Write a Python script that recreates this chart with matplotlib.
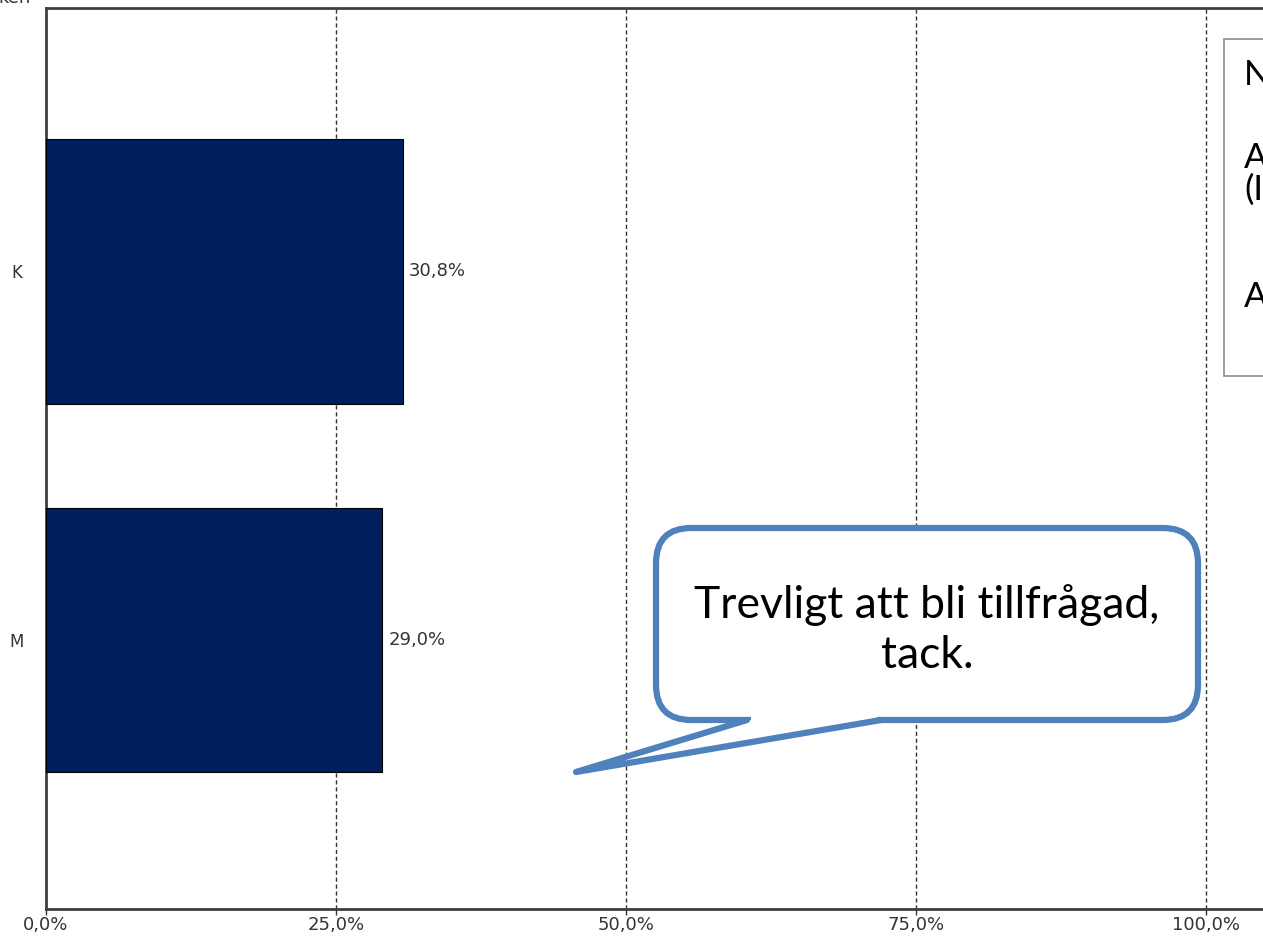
import matplotlib
matplotlib.use("Agg")
import matplotlib.pyplot as plt
from matplotlib.patches import FancyBboxPatch, Polygon, Rectangle
from matplotlib.ticker import FuncFormatter

# data
categories = ["K", "M"]
values = [30.8, 29.0]
xticks = [0, 25, 50, 75, 100]

W, H = 1263, 936
fig = plt.figure(figsize=(W / 100, H / 100), dpi=100)

# axes placed in pixels: 0% at x=46, 25% every 290 px, plot spans y 8..909
x0, ytop, ybot = 46, 8, 909
px_per_pct = 290 / 25
xmax = 110
ax = fig.add_axes([x0 / W, (H - ybot) / H, xmax * px_per_pct / W, (ybot - ytop) / H])

pos = list(range(len(categories)))
ax.barh(pos, values, height=0.718, color="#001f5f", edgecolor="#000000", linewidth=0.8, zorder=3)
for p, v in zip(pos, values):
    ax.text(v + 0.5, p, ("%.1f%%" % v).replace(".", ","), va="center", ha="left",
            fontsize=13, color="#333333", zorder=4)

ax.set_xlim(0, xmax)
ax.set_ylim(1.729, -0.713)
ax.set_yticks(pos)
ax.set_yticklabels(categories)
ax.set_xticks(xticks)
ax.xaxis.set_major_formatter(FuncFormatter(lambda v, _: ("%.1f%%" % v).replace(".", ",")))
ax.tick_params(axis="x", length=4, width=1, color="#333333", labelsize=13, labelcolor="#333333", pad=1)
ax.tick_params(axis="y", length=0, labelsize=12, labelcolor="#333333", pad=21)
for t in ax.get_yticklabels():
    t.set_horizontalalignment("center")

for g in xticks[1:]:
    ax.axvline(g, color="#333333", linestyle=(0, (3, 2)), linewidth=1.0, zorder=1)

for s in ["left", "bottom", "top"]:
    ax.spines[s].set_color("#404040")
    ax.spines[s].set_linewidth(2)
ax.spines["right"].set_visible(False)

# cut-off axis title at the top left
fig.text(-2 / W, (H - 3) / H, "ken", fontsize=13, color="#333333", ha="left", va="baseline")

# pixel transform helper
def px(x, y):
    return (x / W, (H - y) / H)

# legend box cut by the right edge
lx, ly0, ly1 = 1224, 39, 376
fig.patches.append(Rectangle(px(lx, ly1), (W + 20 - lx) / W, (ly1 - ly0) / H,
                             transform=fig.transFigure, facecolor="white",
                             edgecolor="#8c8c8c", linewidth=1.2, zorder=5))
for txt, yy in [("N", 75), ("A", 158), ("(I", 190), ("A", 297)]:
    fig.text(*px(1244, yy), txt, fontsize=25, family="Lato", color="#000000",
             ha="left", va="center", zorder=6)

# speech bubble
bx0, bx1, by0, by1 = 656, 1198, 528, 720
bubble_col = "#4f81bd"
fig.patches.append(FancyBboxPatch(px(bx0, by1), (bx1 - bx0) / W, (by1 - by0) / H,
                                  boxstyle="round,pad=0,rounding_size=0.028",
                                  transform=fig.transFigure, facecolor="white",
                                  edgecolor=bubble_col, linewidth=4.5, zorder=7,
                                  mutation_aspect=W / H))
# hide the bubble border under the tail base
fig.patches.append(Polygon([px(751, by1 - 5), px(877, by1 - 5), px(877, by1 + 5), px(751, by1 + 5)],
                           transform=fig.transFigure, facecolor="white", edgecolor="none", zorder=7.5))
tail = [px(747, by1), px(576, 772), px(881, by1)]
fig.patches.append(Polygon(tail, closed=False, transform=fig.transFigure,
                           facecolor="white", edgecolor=bubble_col, linewidth=4.5,
                           joinstyle="round", capstyle="round", zorder=8))
fig.text(*px((bx0 + bx1) / 2, 630), "Trevligt att bli tillfrågad,\ntack.", fontsize=32,
         family="Lato", ha="center", va="center", linespacing=1.3, zorder=10)

fig.savefig("out.png", dpi=100)
